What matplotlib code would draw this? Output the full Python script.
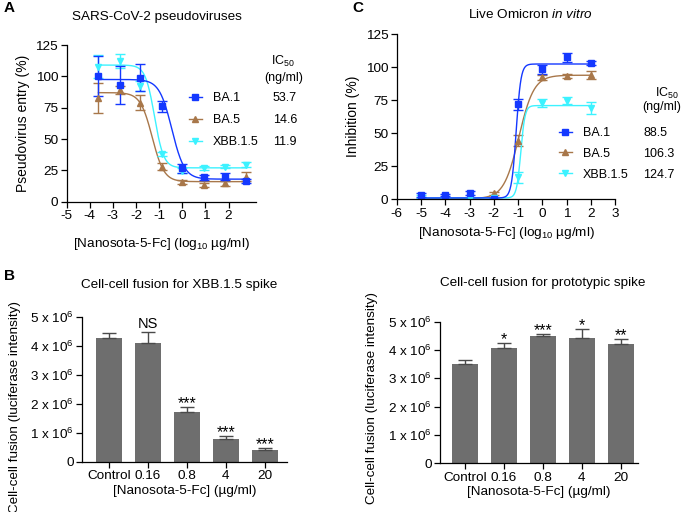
import numpy as np
import matplotlib.pyplot as plt
from matplotlib.lines import Line2D

plt.rcParams["font.family"] = ["Liberation Sans", "DejaVu Sans"]
plt.rcParams["mathtext.fontset"] = "custom"
plt.rcParams["mathtext.rm"] = "Liberation Sans"
plt.rcParams["mathtext.it"] = "Liberation Sans:italic"
plt.rcParams["mathtext.default"] = "regular"
plt.rcParams["axes.linewidth"] = 0.9
plt.rcParams["axes.unicode_minus"] = False

# ---- panel A: pseudovirus entry ----
conc_a = [-3.62, -2.69, -1.82, -0.88, 0.0, 0.92, 1.85, 2.77]
ba1_a = [100.3, 93, 99, 76, 26.6, 19.4, 20, 16.8]
ba1_a_err = [16, 15, 11, 4.5, 3.5, 2, 3, 1.5]
ba5_a = [82.4, 89, 79, 28, 16, 13.3, 14.6, 20]
ba5_a_err = [12, 3, 6, 2.5, 1.5, 1.5, 2, 3.4]
xbb_a = [107.7, 112.5, 92, 37.8, 24.7, 26.6, 28, 29.3]
xbb_a_err = [9, 5.5, 4, 1.5, 2, 1.5, 1.5, 2]
# fitted curve parameters (top, bottom, log midpoint, hill slope)
fit_a = {"BA.1": (97.5, 18, -0.45, 1.6), "BA.5": (87, 16, -1.3, 1.7), "XBB.1.5": (109, 27, -1.2, 2.2)}
ic50_a = ["53.7", "14.6", "11.9"]

# ---- panel C: live virus inhibition ----
conc_c = [-5, -4, -3, -2, -1, 0, 1, 2]
ba1_c = [3.3, 3.3, 5, 0.5, 72, 98.5, 107.6, 103]
ba1_c_err = [1.5, 1, 1.5, 0, 4, 3.5, 3.5, 1.5]
ba5_c = [0, 0, 0, 4.5, 44.4, 92.4, 93.4, 94.2]
ba5_c_err = [0.5, 0.5, 0.5, 1, 4, 2, 1.5, 3]
xbb_c = [2, 0.8, 0.8, 0.8, 16.7, 73, 74.7, 69]
xbb_c_err = [1, 0.5, 0.5, 0.5, 4, 3, 2.5, 4.5]
fit_c = {"BA.1": (1, 102.5, -1.08, 4.5), "BA.5": (0.5, 94, -0.97, 1.4), "XBB.1.5": (1, 71, -0.89, 5)}
ic50_c = ["88.5", "106.3", "124.7"]

# ---- panels B / D: cell-cell fusion ----
doses = ["Control", "0.16", "0.8", "4", "20"]
xbb_fusion = [4.28e6, 4.10e6, 1.70e6, 0.78e6, 0.40e6]
xbb_fusion_err = [0.15e6, 0.36e6, 0.17e6, 0.11e6, 0.06e6]
xbb_sig = ["", "NS", "***", "***", "***"]
proto_fusion = [3.51e6, 4.06e6, 4.49e6, 4.44e6, 4.21e6]
proto_fusion_err = [0.14e6, 0.18e6, 0.06e6, 0.30e6, 0.17e6]
proto_sig = ["", "*", "***", "*", "**"]

variants = ["BA.1", "BA.5", "XBB.1.5"]
colors = {"BA.1": "#1438ff", "BA.5": "#a8774a", "XBB.1.5": "#3cf2ff"}
markers = {"BA.1": "s", "BA.5": "^", "XBB.1.5": "v"}

W, H = 683, 512
fig = plt.figure(figsize=(W / 100, H / 100), dpi=100)
FS = 9.7


def px_axes(l, t, r, b):
    return fig.add_axes([l / W, 1 - b / H, (r - l) / W, (b - t) / H])


def style(ax):
    for s in ["top", "right"]:
        ax.spines[s].set_visible(False)
    ax.tick_params(direction="out", length=4, width=0.9, labelsize=FS, pad=2)


def decreasing(x, top, bottom, x50, h):
    return bottom + (top - bottom) / (1 + 10 ** ((x - x50) * h))


def increasing(x, bottom, top, x50, h):
    return bottom + (top - bottom) / (1 + 10 ** ((x50 - x) * h))


def add_legend(ax, x_px, y_px, spacing, values, val_x_px, ha):
    handles = [Line2D([], [], color=colors[v], marker=markers[v], markersize=5, lw=1) for v in variants]
    leg = ax.legend(handles, variants, loc="upper left", bbox_to_anchor=(x_px / W, 1 - y_px / H),
                    bbox_transform=fig.transFigure, frameon=False, fontsize=9, handlelength=1.0,
                    handletextpad=0.9, labelspacing=spacing, borderpad=0, borderaxespad=0)
    fig.canvas.draw()
    r = fig.canvas.get_renderer()
    for t, val in zip(leg.get_texts(), values):
        bb = t.get_window_extent(r)
        yc = (bb.y0 + bb.y1) / 2 / fig.dpi / fig.get_size_inches()[1]
        fig.text(val_x_px / W, yc, val, fontsize=9, ha=ha, va="center")


# ---------------- A ----------------
axA = px_axes(66.5, 45, 256.4, 201.7)
style(axA)
xs = np.linspace(conc_a[0], conc_a[-1], 300)
for v, y, e in [("BA.5", ba5_a, ba5_a_err), ("XBB.1.5", xbb_a, xbb_a_err), ("BA.1", ba1_a, ba1_a_err)]:
    axA.plot(xs, decreasing(xs, *fit_a[v]), color=colors[v], lw=1)
    axA.errorbar(conc_a, y, yerr=e, fmt=markers[v], color=colors[v], ms=5, capsize=3.3, elinewidth=1, capthick=1)
axA.set_xlim(-5, 3.2)
axA.set_ylim(0, 125)
axA.set_xticks(range(-5, 3))
axA.set_yticks([0, 25, 50, 75, 100, 125])
axA.set_xlabel("[Nanosota-5-Fc] (log$_{10}$ µg/ml)", fontsize=FS, labelpad=10)
axA.set_ylabel("Pseudovirus entry (%)", fontsize=10, labelpad=4)
fig.text(157 / W, 1 - 17 / H, "SARS-CoV-2 pseudoviruses", fontsize=FS, ha="center", va="center")
fig.text(283 / W, 1 - 61 / H, "IC$_{50}$", fontsize=9, ha="center", va="center")
fig.text(284 / W, 1 - 78 / H, "(ng/ml)", fontsize=9, ha="center", va="center")
add_legend(axA, 189, 92, 0.8, ic50_a, 285, "center")

# ---------------- C ----------------
axC = px_axes(396.7, 34.3, 615.3, 199.3)
style(axC)
xs = np.linspace(conc_c[0], conc_c[-1], 400)
for v, y, e in [("BA.5", ba5_c, ba5_c_err), ("XBB.1.5", xbb_c, xbb_c_err), ("BA.1", ba1_c, ba1_c_err)]:
    axC.plot(xs, increasing(xs, *fit_c[v]), color=colors[v], lw=1)
    axC.errorbar(conc_c, y, yerr=e, fmt=markers[v], color=colors[v], ms=5, capsize=3.3, elinewidth=1, capthick=1)
axC.set_xlim(-6, 3)
axC.set_ylim(0, 125)
axC.set_xticks(range(-6, 4))
axC.set_yticks([0, 25, 50, 75, 100, 125])
axC.set_xlabel("[Nanosota-5-Fc] (log$_{10}$ µg/ml)", fontsize=FS, labelpad=4)
axC.set_ylabel("Inhibition (%)", fontsize=10, labelpad=4)
fig.text(530 / W, 1 - 15 / H, "Live Omicron $\\mathit{in\\ vitro}$", fontsize=FS, ha="center", va="center")
fig.text(667 / W, 1 - 93 / H, "IC$_{50}$", fontsize=9, ha="center", va="center")
fig.text(662 / W, 1 - 107 / H, "(ng/ml)", fontsize=9, ha="center", va="center")
add_legend(axC, 559, 127, 0.7, ic50_c, 643, "left")


# ---------------- B and D ----------------
def bar_panel(ax, vals, errs, sig, title, title_xy):
    style(ax)
    x = np.arange(len(doses))
    ax.bar(x, vals, width=0.67, color="#6e6e6e")
    ax.errorbar(x, vals, yerr=[np.zeros(len(vals)), errs], fmt="none", ecolor="#4a4a4a",
                elinewidth=1, capsize=5, capthick=1)
    for xi, v, e, s in zip(x, vals, errs, sig):
        if not s:
            continue
        if s == "NS":
            ax.annotate(s, (xi, v + e), xytext=(0, 1), textcoords="offset points",
                        ha="center", va="bottom", fontsize=10.5)
        else:
            ax.annotate(s, (xi, v + e), xytext=(0, -3), textcoords="offset points",
                        ha="center", va="bottom", fontsize=11.5)
    ax.set_ylim(0, 5e6)
    ax.set_yticks(np.arange(0, 6e6, 1e6))
    ax.set_yticklabels(["0"] + ["%d x 10$^6$" % i for i in range(1, 6)])
    ax.set_xticks(x)
    ax.set_xticklabels(doses)
    ax.set_xlabel("[Nanosota-5-Fc] (µg/ml)", fontsize=FS, labelpad=2)
    ax.set_ylabel("Cell-cell fusion (luciferase intensity)", fontsize=FS)
    fig.text(title_xy[0] / W, 1 - title_xy[1] / H, title, fontsize=FS, ha="center", va="center")


axB = px_axes(82, 316.7, 286.7, 461.7)
bar_panel(axB, xbb_fusion, xbb_fusion_err, xbb_sig, "Cell-cell fusion for XBB.1.5 spike", (179, 285))
axB.set_xlim(-0.69, 4.56)
axB.yaxis.set_label_coords(-0.298, 0.38)

axD = px_axes(440, 321.7, 638, 463.3)
bar_panel(axD, proto_fusion, proto_fusion_err, proto_sig, "Cell-cell fusion for prototypic spike", (543, 283))
axD.set_xlim(-0.64, 4.44)
axD.yaxis.set_label_coords(-0.313, 0.46)

for lab, x, y in [("A", 4, 8), ("C", 352, 8), ("B", 4, 276)]:
    fig.text(x / W, 1 - y / H, lab, fontsize=11, fontweight="bold", ha="left", va="center")

fig.savefig("out.png", dpi=100)
